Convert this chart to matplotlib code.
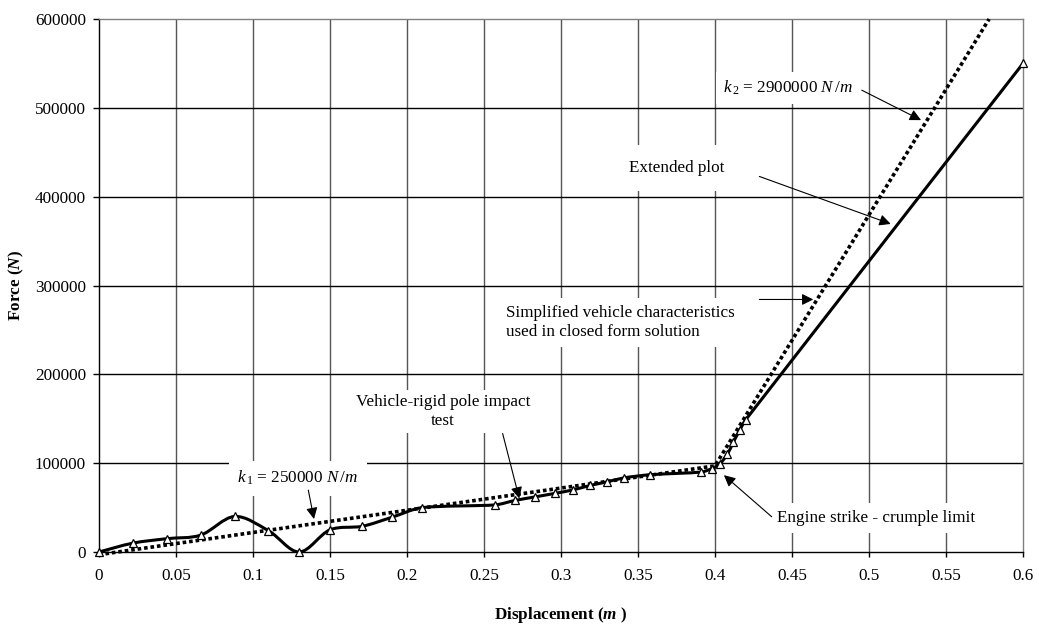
#!/usr/bin/env python3
"""
Vehicle-rigid pole impact: force vs displacement chart
"""

import numpy as np
import matplotlib
matplotlib.use("Agg")
import matplotlib.pyplot as plt
from matplotlib.path import Path
from matplotlib.patches import PathPatch

# test data
test_x = [0, 0.022, 0.044, 0.066, 0.088, 0.11, 0.13, 0.15, 0.171, 0.19, 0.21,
          0.257, 0.27, 0.283, 0.296, 0.308, 0.319, 0.33, 0.341, 0.358, 0.391,
          0.398, 0.403, 0.408, 0.412, 0.416, 0.42, 0.6]
test_y = [0, 10000, 15000, 19000, 40000, 24000, 0, 25000, 29000, 39000, 50000,
          53000, 58000, 62000, 66000, 70000, 75000, 79000, 83500, 87000, 90000,
          94000, 99000, 110000, 124000, 137000, 149000, 550000]

# simplified bilinear characteristic (k1, k2)
simp_x = [0, 0.4, 0.578]
simp_y = [-3000, 97000, 600000]

x_ticks = [0, 0.05, 0.1, 0.15, 0.2, 0.25, 0.3, 0.35, 0.4, 0.45, 0.5, 0.55, 0.6]
x_tick_labels = ['0', '0.05', '0.1', '0.15', '0.2', '0.25', '0.3', '0.35',
                 '0.4', '0.45', '0.5', '0.55', '0.6']
y_ticks = [0, 100000, 200000, 300000, 400000, 500000, 600000]
y_tick_labels = ['0', '100000', '200000', '300000', '400000', '500000', '600000']

plt.rcParams['font.family'] = ['Liberation Serif', 'DejaVu Serif']
plt.rcParams['mathtext.fontset'] = 'custom'
plt.rcParams['mathtext.rm'] = 'Liberation Serif'
plt.rcParams['mathtext.it'] = 'Liberation Serif:italic'
plt.rcParams['mathtext.bf'] = 'Liberation Serif:bold:italic'

FS = 12.3


def smooth_path(ax, xs, ys):
    """Excel-like smoothed line: bezier through the points, built in display space"""
    pts = ax.transData.transform(np.column_stack([xs, ys]).astype(float))
    n = len(pts)
    verts = [pts[0]]
    codes = [Path.MOVETO]
    for i in range(n - 1):
        p0, p3 = pts[i], pts[i + 1]
        prev = pts[i - 1] if i > 0 else p0
        nxt = pts[i + 2] if i + 2 < n else p3
        seg = np.hypot(*(p3 - p0))
        t1 = (p3 - prev) / 6.0
        t2 = (nxt - p0) / 6.0
        # keep handles from overshooting on uneven spacing
        for t in (t1, t2):
            ln = np.hypot(*t)
            if ln > seg / 3.0 and ln > 0:
                t *= (seg / 3.0) / ln
        verts += [p0 + t1, p3 - t2, p3]
        codes += [Path.CURVE4] * 3
    return Path(verts, codes)


fig = plt.figure(figsize=(10.39, 6.28), dpi=100)
ax = fig.add_axes([0.0953, 0.121, 0.8893, 0.8487])

ax.set_xlim(0, 0.6)
ax.set_ylim(0, 600000)

# grid
for xv in x_ticks[1:-1]:
    ax.axvline(xv, color='#555555', lw=1.0, zorder=0)
for yv in y_ticks[1:-1]:
    ax.axhline(yv, color='black', lw=1.0, zorder=0)

# simplified characteristic (dotted)
ax.plot(simp_x, simp_y, color='black', lw=2.6, linestyle=(0, (1, 0.8)),
        clip_on=False, zorder=3)

# test curve, smoothed
patch = PathPatch(smooth_path(ax, test_x, test_y), facecolor='none',
                  edgecolor='black', lw=2.2, joinstyle='round', zorder=4,
                  transform=None)
ax.add_artist(patch)
ax.plot(test_x, test_y, linestyle='none', marker='^', markersize=5.5,
        markerfacecolor='white', markeredgecolor='black', markeredgewidth=0.9,
        clip_on=False, zorder=5)

# spines and ticks
for side in ['top', 'right']:
    ax.spines[side].set_color('#808080')
    ax.spines[side].set_linewidth(1.0)
for side in ['left', 'bottom']:
    ax.spines[side].set_color('black')
    ax.spines[side].set_linewidth(1.0)

ax.set_xticks(x_ticks)
ax.set_xticklabels(x_tick_labels)
ax.set_yticks(y_ticks)
ax.set_yticklabels(y_tick_labels)
ax.tick_params(axis='x', direction='out', length=3.8, width=1.0, pad=8.0,
               labelsize=FS)
ax.tick_params(axis='y', direction='out', length=4.3, width=1.0, pad=5.0,
               labelsize=FS)

ax.set_xlabel(r'Displacement ($\mathbf{m}$ )', fontsize=FS, fontweight='bold')
ax.xaxis.set_label_coords(0.5, -0.100)
ax.set_ylabel(r'Force ($\mathbf{N}$)', fontsize=FS, fontweight='bold')
ax.yaxis.set_label_coords(-0.079, 0.5)

arrow = dict(arrowstyle='-|>', color='black', lw=0.8, mutation_scale=17,
             shrinkA=0, shrinkB=0)


def box(pad):
    return dict(facecolor='white', edgecolor='none', pad=pad)


# labels
ax.text(0.1292, 83000, r'$k_{\,1}$ = 250000 $N\,/m$', fontsize=FS,
        ha='center', va='center', bbox=box(6), zorder=6)
ax.text(0.2234, 158400, 'Vehicle-rigid pole impact\ntest', fontsize=FS,
        ha='center', va='center', multialignment='center', linespacing=1.2,
        bbox=box(3), zorder=6)
ax.text(0.2645, 258400, 'Simplified vehicle characteristics\nused in closed form solution',
        fontsize=FS, ha='left', va='center', multialignment='left',
        linespacing=1.2, bbox=box(5), zorder=6)
ax.text(0.3751, 432200, 'Extended plot', fontsize=FS, ha='center',
        va='center', bbox=box(11), zorder=6)
ax.text(0.4471, 522500, r'$k_{\,2}$ = 2900000 $N\,/m$', fontsize=FS,
        ha='center', va='center', bbox=box(5), zorder=6)
ax.text(0.4400, 37900, 'Engine strike - crumple limit', fontsize=FS,
        ha='left', va='center', bbox=box(5), zorder=6)

# arrows
ax.annotate('', xy=(0.1396, 37100), xytext=(0.1359, 69700), arrowprops=arrow, zorder=7)
ax.annotate('', xy=(0.2729, 60300), xytext=(0.2621, 133400), arrowprops=arrow, zorder=7)
ax.annotate('', xy=(0.4638, 284300), xytext=(0.4288, 284300), arrowprops=arrow, zorder=7)
ax.annotate('', xy=(0.5141, 369300), xytext=(0.4288, 422800), arrowprops=arrow, zorder=7)
ax.annotate('', xy=(0.5338, 486200), xytext=(0.4953, 519900), arrowprops=arrow, zorder=7)
ax.annotate('', xy=(0.4058, 86500), xytext=(0.4368, 39700), arrowprops=arrow, zorder=7)

fig.savefig('out.png', dpi=100)
